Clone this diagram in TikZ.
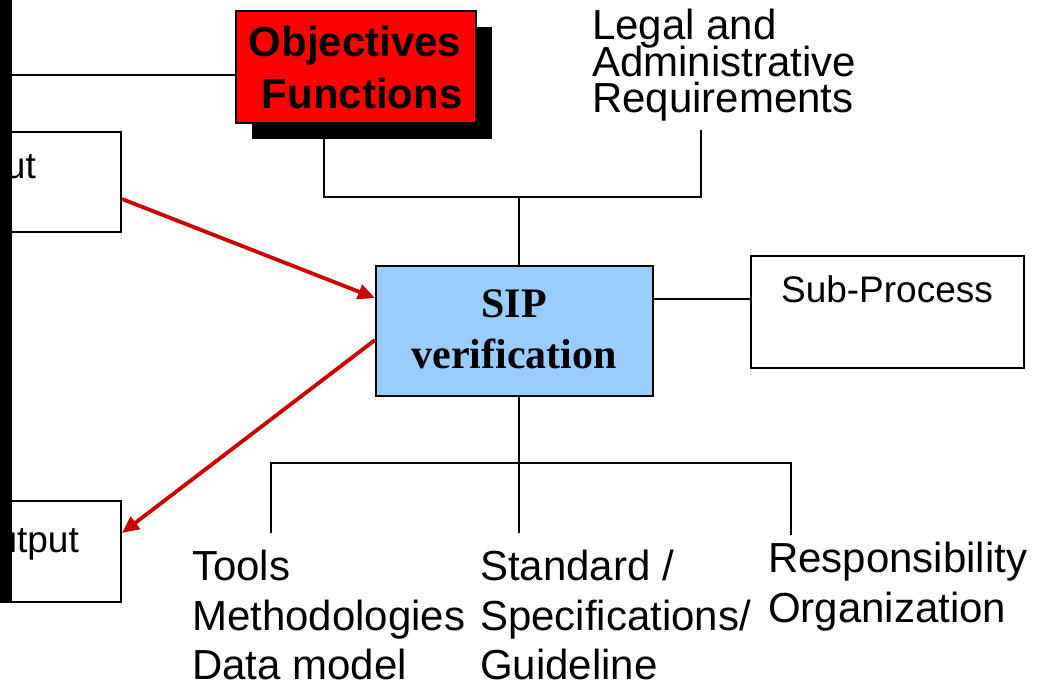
\documentclass[tikz,border=0pt]{standalone}
\usepackage{fontspec}
\setmainfont{Liberation Sans}
\newfontfamily\serifbold[BoldFont={Liberation Serif Bold}]{Liberation Serif}
\usetikzlibrary{arrows.meta,shadows}
\definecolor{boxred}{RGB}{255,0,0}
\definecolor{sipblue}{RGB}{153,204,255}
\definecolor{arrowred}{RGB}{204,0,0}
\begin{document}
\begin{tikzpicture}[x=1pt,y=-1pt,
  box/.style={draw=black,line width=2pt,inner sep=0pt,anchor=north west},
  wire/.style={draw=black,line width=2pt},
  flow/.style={draw=arrowred,line width=3.8pt,-{Triangle[length=17pt,width=15pt]}},
  txt/.style={inner sep=0pt,font=\fontsize{42}{50}\selectfont},
  smalltxt/.style={inner sep=0pt,font=\fontsize{37}{44}\selectfont},
  boldtxt/.style={inner sep=0pt,font=\fontsize{42}{50}\selectfont\bfseries},
  siptxt/.style={inner sep=0pt,font=\fontsize{42}{50}\serifbold\bfseries}]
\useasboundingbox (0,0) rectangle (1044,685);
\clip (0,0) rectangle (1044,685);

% boxes on the left edge, partly hidden behind the bar
\node[box,minimum width=160pt,minimum height=100pt] (inbox) at (-40,131) {};
\node[box,minimum width=160pt,minimum height=101pt] (outbox) at (-40,500) {};
\node[smalltxt,anchor=base east] (intxt) at (36,178) {Input};
\node[smalltxt,anchor=base east] (outtxt) at (79,552) {Output};

% upper branch: objectives and legal requirements
\coordinate (objFoot) at (324,122);
\coordinate (reqFoot) at (701,130);
\coordinate (joint) at (519,197);
\draw[wire] (objFoot) |- (joint) -| (reqFoot);

\node[box,fill=boxred,minimum width=240pt,minimum height=112pt,
  drop shadow={shadow xshift=16pt,shadow yshift=-16pt,opacity=1,fill=black}] (obj) at (235,10) {};
\node[boldtxt,anchor=base] (obj1) at (355,57) {Objectives};
\node[boldtxt,anchor=base] (obj2) at (362,108) {Functions};

\node[txt,anchor=base west] (leg1) at (592,40) {Legal and};
\node[txt,anchor=base west] (leg2) at (592,77) {Administrative};
\node[txt,anchor=base west] (leg3) at (592,112) {Requirements};

% central process
\node[box,fill=sipblue,minimum width=277pt,minimum height=130pt] (sip) at (375,265) {};
\node[siptxt,anchor=base] (sip1) at (514,317) {SIP};
\node[siptxt,anchor=base] (sip2) at (514,368) {verification};
\draw[wire] (joint |- sip.north) -- (joint);

\node[box,minimum width=273pt,minimum height=112pt] (sub) at (750,255) {};
\node[smalltxt,anchor=base] (subtxt) at (887,302) {Sub-Process};
\draw[wire] ([yshift=32pt]sip.east) -- ([yshift=32pt]sip.east -| sub.west);

% input and output flows
\draw[flow] ([yshift=-17pt]inbox.east) -- ([yshift=33pt]sip.west);
\draw[flow] ([yshift=-9pt]sip.west) -- ([yshift=18.5pt]outbox.east);

% lower branch: resources
\coordinate (bl) at (271,533);
\coordinate (bm) at (519,533);
\coordinate (br) at (791,535);
\draw[wire] (bm |- sip.south) -- (bm);
\draw[wire] (bl) -- (bl |- 0,463) -- (br |- 0,463) -- (br);

\node[txt,anchor=base west] (tool1) at (192,580) {Tools};
\node[txt,anchor=base west] (tool2) at (192,630) {Methodologies};
\node[txt,anchor=base west] (tool3) at (192,679) {Data model};
\node[txt,anchor=base west] (std1) at (480,580) {Standard /};
\node[txt,anchor=base west] (std2) at (480,630) {Specifications/};
\node[txt,anchor=base west] (std3) at (480,679) {Guideline};
\node[txt,anchor=base west] (resp1) at (768,572) {Responsibility};
\node[txt,anchor=base west] (resp2) at (768,622) {Organization};

% black bar along the left edge
\fill[black] (0,0) rectangle (12,602);
\coordinate (objIn) at ([yshift=-8pt]obj.west);
\draw[wire] (objIn -| 12,0) -- (objIn);
\end{tikzpicture}
\end{document}
